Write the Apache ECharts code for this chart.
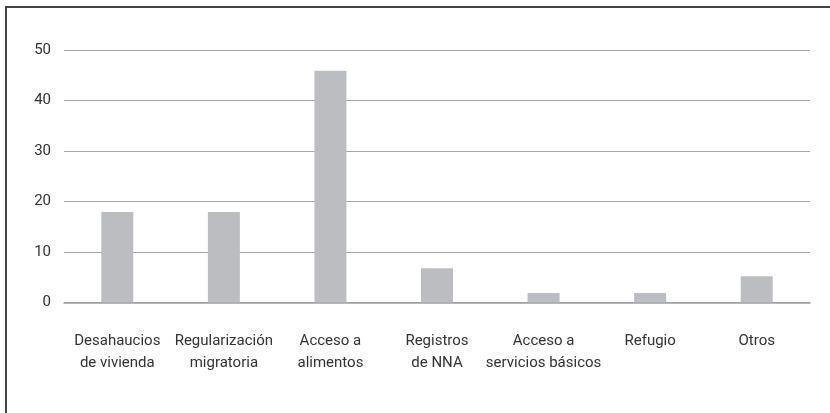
<!DOCTYPE html>
<html>
<head>
<meta charset="utf-8">
<script src="https://cdn.jsdelivr.net/npm/echarts@6/dist/echarts.min.js"></script>
<style>
  html, body { margin: 0; padding: 0; background: #fff; }
  #wrap { position: relative; width: 830px; height: 413px; overflow: hidden; }
  #frame {
    position: absolute; left: 5px; top: 6px; width: 900px; height: 500px;
    border-left: 2px solid #444; border-top: 2px solid #444;
  }
  #chart { position: absolute; left: 0; top: 0; width: 830px; height: 413px; }
</style>
</head>
<body>
<div id="wrap">
  <div id="frame"></div>
  <div id="chart"></div>
</div>
<script>
// categorias y valores
const categories = [
  'Desahaucios\nde vivienda',
  'Regularización\nmigratoria',
  'Acceso a\nalimentos',
  'Registros\nde NNA',
  'Acceso a\nservicios básicos',
  'Refugio',
  'Otros'
];
const values = [17.9, 17.9, 45.9, 6.8, 1.9, 1.9, 5.2];
const yTicks = [0, 10, 20, 30, 40, 50];

const labelFont = 'Roboto, sans-serif';

const chart = echarts.init(document.getElementById('chart'));
chart.setOption({
  animation: false,
  grid: { left: 64, right: 20, top: 50, bottom: 110.5 },
  xAxis: {
    type: 'category',
    data: categories,
    axisTick: { show: false },
    axisLine: { lineStyle: { color: '#a0a0a0', width: 1.5 } },
    axisLabel: {
      interval: 0,
      margin: 28,
      color: '#333',
      fontFamily: labelFont,
      fontSize: 15,
      lineHeight: 22
    }
  },
  yAxis: {
    type: 'value',
    min: yTicks[0],
    max: yTicks[yTicks.length - 1],
    interval: 10,
    axisLine: { show: false },
    axisTick: { show: false },
    axisLabel: {
      margin: 13,
      color: '#333',
      fontFamily: labelFont,
      fontSize: 15
    },
    splitLine: { lineStyle: { color: '#a6a6a6', width: 1 } }
  },
  series: [{
    type: 'bar',
    data: values,
    barWidth: 32,
    itemStyle: { color: '#bcbdc0' }
  }]
});
</script>
</body>
</html>
